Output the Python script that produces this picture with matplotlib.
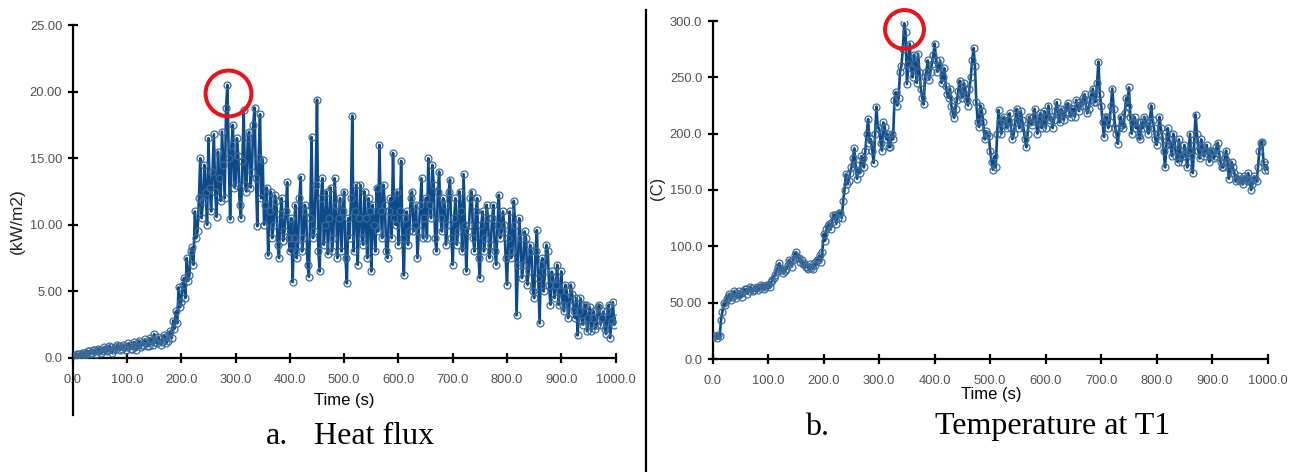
import numpy as np
import matplotlib
matplotlib.use("Agg")
import matplotlib.pyplot as plt
from matplotlib.lines import Line2D

# ---------------- data (sampled every 2.5 s, 0 .. 1000 s) ----------------
heat_flux = [
    0.0, 0.2, 0.1, 0.3, 0.3, 0.1, 0.2, 0.4, 0.4, 0.2,
    0.3, 0.5, 0.5, 0.3, 0.4, 0.6, 0.6, 0.3, 0.5, 0.7,
    0.6, 0.4, 0.5, 0.8, 0.7, 0.5, 0.6, 0.9, 0.8, 0.4,
    0.6, 0.8, 0.7, 1.0, 0.9, 0.6, 0.7, 1.0, 0.8, 0.6,
    0.8, 1.1, 1.0, 0.7, 0.7, 1.2, 0.9, 0.6, 1.1, 1.3,
    0.8, 1.0, 1.0, 1.4, 1.2, 0.9, 0.9, 1.5, 1.3, 1.0,
    1.8, 1.2, 1.1, 1.6, 1.4, 1.0, 1.2, 1.7, 1.6, 1.1,
    1.3, 1.8, 2.0, 1.5, 2.8, 2.2, 3.5, 2.6, 5.3, 3.8,
    4.2, 5.5, 6.0, 4.5, 7.5, 5.8, 6.2, 8.0, 8.3, 7.0,
    11.0, 9.0, 9.5, 12.0, 15.0, 10.5, 11.8, 14.5, 12.5, 10.0,
    16.5, 12.8, 11.0, 14.0, 16.8, 12.5, 10.6, 15.5, 13.5, 11.8,
    17.0, 14.5, 12.0, 18.8, 20.5, 15.0, 10.4, 16.0, 17.5, 12.8,
    13.0, 16.5, 15.2, 11.5, 10.5, 14.8, 18.6, 13.0, 12.5, 16.5,
    17.0, 12.8, 14.0, 17.5, 18.8, 13.5, 9.9, 15.0, 18.3, 12.0,
    14.9, 10.0, 11.5, 12.8, 7.7, 11.0, 12.5, 9.0, 10.0, 12.2,
    11.8, 8.5, 7.5, 10.8, 12.0, 8.8, 9.5, 11.0, 13.2, 9.0,
    8.0, 10.5, 5.7, 9.0, 11.5, 7.5, 8.5, 12.0, 13.6, 8.0,
    9.0, 11.5, 11.0, 7.0, 6.1, 10.5, 16.6, 9.0, 9.5, 13.0,
    19.4, 8.0, 6.5, 12.0, 13.5, 8.5, 10.0, 12.5, 7.8, 10.5,
    12.8, 8.0, 9.0, 13.5, 11.5, 7.5, 10.5, 12.0, 8.0, 11.0,
    12.5, 7.5, 5.6, 10.5, 9.0, 12.0, 18.2, 8.0, 11.0, 13.0,
    7.0, 10.5, 13.0, 9.0, 8.5, 12.5, 10.5, 7.5, 12.0, 11.0,
    6.5, 11.5, 10.0, 8.0, 12.8, 9.5, 16.0, 11.0, 9.0, 13.0,
    11.5, 8.0, 7.5, 11.0, 12.0, 9.0, 15.4, 10.5, 10.0, 12.5,
    8.5, 11.0, 14.8, 9.0, 6.2, 10.5, 11.0, 8.5, 9.5, 12.0,
    12.5, 9.5, 10.0, 11.5, 7.5, 9.5, 11.5, 13.5, 9.0, 10.5,
    12.0, 9.0, 15.0, 11.5, 10.5, 14.5, 13.0, 9.0, 8.0, 12.5,
    14.0, 10.5, 9.5, 12.0, 11.5, 8.5, 10.0, 12.5, 13.4, 9.0,
    7.0, 10.5, 12.0, 8.5, 9.5, 12.5, 11.0, 8.0, 13.8, 10.0,
    6.5, 9.5, 10.0, 12.0, 12.5, 9.0, 8.0, 11.0, 12.0, 7.5,
    6.0, 10.0, 11.0, 8.0, 9.0, 11.5, 10.5, 7.5, 8.5, 10.5,
    11.5, 8.0, 7.0, 10.0, 12.25, 9.0, 9.5, 11.0, 10.0, 7.5,
    5.5, 9.0, 11.0, 7.5, 8.0, 11.8, 10.0, 3.2, 7.0, 10.5,
    9.0, 6.0, 7.0, 9.5, 9.0, 5.5, 6.5, 8.5, 8.0, 5.0,
    4.5, 8.0, 9.6, 6.0, 2.6, 7.0, 7.5, 5.0, 6.5, 8.5,
    8.0, 5.5, 4.0, 6.5, 6.0, 4.5, 5.5, 7.0, 4.0, 5.0,
    6.5, 4.0, 3.5, 5.5, 5.0, 3.0, 4.0, 5.5, 4.8, 3.5,
    3.0, 4.5, 1.7, 3.5, 4.5, 2.8, 2.5, 4.0, 4.0, 2.0,
    3.0, 3.8, 2.0, 3.0, 3.5, 2.2, 2.5, 3.8, 4.0, 2.5,
    3.0, 3.5, 2.2, 1.8, 3.5, 4.0, 1.5, 2.8, 4.2, 2.5,
    3.0,
]

temperature = [
    20, 20, 20, 19, 21, 20, 35, 42, 50, 48,
    53, 55, 58, 52, 55, 60, 59, 54, 57, 60,
    58, 55, 60, 62, 62, 58, 60, 64, 63, 60,
    61, 63, 64, 61, 63, 66, 65, 62, 64, 66,
    66, 64, 68, 70, 72, 75, 78, 82, 85, 79,
    80, 76, 78, 80, 83, 88, 86, 82, 88, 92,
    95, 90, 90, 86, 88, 84, 85, 82, 82, 80,
    84, 81, 80, 85, 83, 88, 88, 92, 86, 95,
    111, 105, 115, 118, 120, 115, 122, 128, 128, 120,
    125, 130, 130, 125, 140, 150, 164, 155, 158, 165,
    170, 178, 187, 172, 160, 168, 165, 180, 178, 170,
    185, 200, 213, 192, 195, 185, 174, 200, 224, 205,
    205, 192, 185, 210, 206, 195, 200, 188, 188, 200,
    195, 230, 237, 225, 232, 255, 260, 275, 298, 290,
    244, 262, 280, 258, 250, 270, 262, 245, 271, 255,
    240, 232, 226, 250, 255, 265, 248, 255, 262, 270,
    280, 265, 255, 260, 265, 245, 250, 258, 242, 235,
    232, 240, 225, 218, 214, 222, 230, 238, 247, 235,
    232, 245, 240, 230, 225, 240, 250, 265, 276, 260,
    228, 210, 206, 225, 220, 210, 195, 202, 200, 198,
    185, 175, 168, 180, 170, 200, 221, 210, 200, 212,
    215, 208, 205, 212, 218, 205, 195, 200, 210, 222,
    212, 205, 220, 212, 205, 195, 188, 200, 215, 210,
    208, 215, 222, 210, 200, 212, 218, 205, 210, 220,
    205, 215, 225, 212, 215, 205, 212, 220, 228, 218,
    210, 222, 220, 212, 218, 225, 227, 218, 215, 222,
    222, 215, 230, 225, 220, 228, 225, 232, 235, 225,
    218, 222, 230, 235, 240, 228, 228, 245, 264, 235,
    225, 210, 197, 215, 215, 205, 210, 225, 240, 222,
    205, 200, 191, 205, 215, 208, 205, 218, 232, 225,
    241, 215, 200, 210, 215, 205, 210, 198, 195, 210,
    205, 215, 212, 205, 200, 210, 225, 212, 205, 195,
    190, 200, 215, 205, 198, 185, 170, 190, 205, 195,
    190, 180, 200, 192, 180, 175, 195, 185, 175, 180,
    190, 182, 170, 185, 200, 180, 165, 190, 217, 200,
    185, 178, 195, 188, 180, 185, 190, 182, 175, 185,
    185, 178, 180, 188, 192, 182, 175, 170, 170, 178,
    185, 175, 160, 168, 175, 170, 165, 158, 160, 162,
    158, 160, 155, 162, 160, 158, 165, 158, 150, 155,
    162, 160, 158, 170, 185, 192, 193, 175, 168, 172,
    168,
]

time_hf = np.arange(len(heat_flux)) * 2.5
time_t = np.arange(len(temperature)) * 2.5

x_ticks = [0, 100, 200, 300, 400, 500, 600, 700, 800, 900, 1000]
x_tick_labels = ["0.0", "100.0", "200.0", "300.0", "400.0", "500.0",
                 "600.0", "700.0", "800.0", "900.0", "1000.0"]
hf_ticks = [0, 5, 10, 15, 20, 25]
hf_tick_labels = ["0.0", "5.00", "10.00", "15.00", "20.00", "25.00"]
t_ticks = [0, 50, 100, 150, 200, 250, 300]
t_tick_labels = ["0.0", "50.00", "100.0", "150.0", "200.0", "250.0", "300.0"]

peak_hf = (286, 19.9)
peak_t = (345, 293)

# ---------------- figure ----------------
W, H = 1297, 472
fig = plt.figure(figsize=(W / 100, H / 100), dpi=100)
fig.patch.set_facecolor("white")

sans = ["Liberation Sans", "DejaVu Sans"]
serif = ["Liberation Serif", "DejaVu Serif"]
line_col = "#0c4a8a"
mk_col = "#3d6b98"
tick_col = "#505050"


def px_axes(x0, x1, ytop, ybot):
    return fig.add_axes([x0 / W, 1 - ybot / H, (x1 - x0) / W, (ybot - ytop) / H])


def style(ax, yticks, ylabels, ylim):
    ax.set_xlim(0, 1000)
    ax.set_ylim(*ylim)
    for s in ("top", "right"):
        ax.spines[s].set_visible(False)
    for s in ("left", "bottom"):
        ax.spines[s].set_linewidth(1.6)
        ax.spines[s].set_color("black")
    ax.set_xticks(x_ticks)
    ax.set_xticklabels(x_tick_labels, family=sans, fontsize=9.3, color=tick_col)
    ax.set_yticks(yticks)
    ax.set_yticklabels(ylabels, family=sans, fontsize=9.3, color=tick_col)
    ax.tick_params(axis="both", direction="inout", length=7, width=1.6, color="black")
    ax.tick_params(axis="x", pad=8)
    ax.tick_params(axis="y", pad=4)
    ax.patch.set_alpha(0)


# Left panel: heat flux
ax1 = px_axes(72.7, 615.6, 25, 358)
ax1.plot(time_hf, heat_flux, color=line_col, lw=1.9, marker="o", ms=5,
         mfc="none", mec=mk_col, mew=0.9, zorder=3)
style(ax1, hf_ticks, hf_tick_labels, (0, 25))
ax1.spines["left"].set_bounds(-4.3, 25)
ax1.plot([peak_hf[0]], [peak_hf[1]], marker="o", ms=33, mfc="none",
         mec="#e8141b", mew=2.9, zorder=5, clip_on=False)

# Right panel: temperature
ax2 = px_axes(712.7, 1267.7, 21, 359)
ax2.plot(time_t, temperature, color=line_col, lw=1.9, marker="o", ms=5,
         mfc="none", mec=mk_col, mew=0.9, zorder=3)
style(ax2, t_ticks, t_tick_labels, (0, 300))
ax2.plot([peak_t[0]], [peak_t[1]], marker="o", ms=28, mfc="none",
         mec="#e8141b", mew=2.9, zorder=5, clip_on=False)


def ftext(x, y, s, **kw):
    fig.text(x / W, 1 - y / H, s, **kw)


ftext(17, 221, "(kW/m2)", rotation=90, ha="center", va="center",
      family=sans, fontsize=12.5, color="#222222")
ftext(344, 400, "Time (s)", ha="center", va="center",
      family=sans, fontsize=12, color="black")
ftext(658, 188, "(C)", rotation=90, ha="center", va="center",
      family=sans, fontsize=12, color="#222222")
ftext(991, 394, "Time (s)", ha="center", va="center",
      family=sans, fontsize=12, color="black")

ftext(266, 444, "a.", ha="left", va="baseline", family=serif, fontsize=23, color="black")
ftext(314, 444, "Heat flux", ha="left", va="baseline", family=serif, fontsize=23, color="black")
ftext(805, 435, "b.", ha="left", va="baseline", family=serif, fontsize=23, color="black")
ftext(935, 434, "Temperature at T1", ha="left", va="baseline", family=serif, fontsize=23, color="black")

fig.add_artist(Line2D([646 / W, 646 / W], [1 - 10 / H, 0], color="black", lw=1.6))

fig.savefig("out.png", dpi=100)
